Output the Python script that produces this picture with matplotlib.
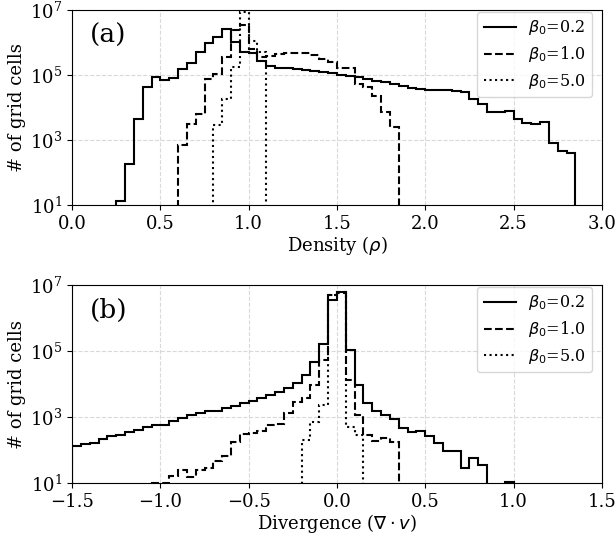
import numpy as np
import matplotlib
matplotlib.use('Agg')
import matplotlib.pyplot as plt
from matplotlib.lines import Line2D
from matplotlib.ticker import FixedLocator, NullLocator

plt.rcParams['font.family'] = 'DejaVu Serif'
plt.rcParams['mathtext.fontset'] = 'dejavusans'
plt.rcParams['font.size'] = 13

bin_width = 0.05
labels = [r'$\beta_0$=0.2', r'$\beta_0$=1.0', r'$\beta_0$=5.0']
styles = ['-', '--', ':']

# (a) density histograms: first bin left edge, counts per 0.05 bin
rho_start = [0.25, 0.60, 0.80]
rho_b02 = [13, 180, 4600, 42000, 85000, 71000, 79000, 150000, 240000, 500000,
           980000, 1.5e6, 2.6e6, 1.07e6, 525000, 490000, 270000, 195000, 170000, 162000,
           155000, 145000, 135000, 126000, 115000, 100000, 93000, 85000, 76000, 68000,
           60000, 52000, 47000, 41000, 37000, 36000, 35000, 35000, 32000, 30000,
           19000, 12600, 7200, 7200, 7800, 4500, 3400, 3200, 3500, 830,
           470, 390]
rho_b10 = [710, 3200, 6200, 76000, 107000, 360000, 2.4e6, 3.5e6, 620000, 350000,
           380000, 440000, 470000, 470000, 470000, 420000, 320000, 260000, 162000, 162000,
           52000, 44000, 23000, 7400, 2600]
rho_b50 = [3000, 19000, 180000, 8.9e6, 1.15e6, 500000]

# (b) divergence histograms
div_start = [-1.50, -1.05, -0.20]
div_b02 = [135, 155, 170, 215, 270, 290, 360, 420, 500, 590,
           590, 790, 930, 1170, 1320, 1580, 1580, 1950, 2200, 2600,
           3100, 3900, 4600, 5600, 7400, 10500, 19000, 47000, 170000, 3.5e6,
           6.3e6, 107000, 9300, 2700, 1550, 1150, 850, 460, 355, 370,
           260, 160, 93, 93, 29, 58, 35, 0, 0, 11]
div_b10 = [10, 10, 17, 25, 15, 25, 28, 48, 65, 180,
           310, 340, 380, 560, 630, 1350, 2900, 3900, 9100, 54000,
           4.9e6, 6.2e6, 13500, 1150, 295, 186, 234, 182]
div_b50 = [200, 710, 2300, 5e6, 5.6e6, 500, 295]


def draw_panel(ax, starts, series, xlim, xticks, xlabel, tag):
    for start, counts, ls in zip(starts, series, styles):
        edges = start + bin_width * np.arange(len(counts) + 1)
        ax.hist(edges[:-1] + bin_width / 2, bins=edges, weights=counts,
                histtype='step', log=True, color='black', linestyle=ls, linewidth=1.5)
    ax.set_xlim(*xlim)
    ax.set_ylim(10, 1e7)
    ax.set_xticks(xticks)
    ax.yaxis.set_major_locator(FixedLocator([1e1, 1e3, 1e5, 1e7]))
    ax.yaxis.set_minor_locator(NullLocator())
    ax.grid(True, linestyle='--', color='#d9d9d9', linewidth=0.8)
    ax.set_axisbelow(True)
    ax.set_xlabel(xlabel, labelpad=1)
    ax.set_ylabel('# of grid cells', labelpad=3)
    ax.text(0.034, 0.87, tag, transform=ax.transAxes, fontsize=19, va='center', ha='left')
    handles = [Line2D([], [], color='black', linestyle=ls, linewidth=1.5) for ls in styles]
    ax.legend(handles, labels, loc='upper right', bbox_to_anchor=(0.985, 1.0),
              borderaxespad=0.1, fontsize=11.5, labelspacing=0.45)


fig = plt.figure(figsize=(6.16, 5.38), dpi=100)
ax1 = fig.add_axes([0.117, 0.619, 0.860, 0.362])
ax2 = fig.add_axes([0.117, 0.102, 0.860, 0.368])

draw_panel(ax1, rho_start, [rho_b02, rho_b10, rho_b50], (0, 3.0),
           [0.0, 0.5, 1.0, 1.5, 2.0, 2.5, 3.0], r'Density ($\rho$)', '(a)')
draw_panel(ax2, div_start, [div_b02, div_b10, div_b50], (-1.5, 1.5),
           [-1.5, -1.0, -0.5, 0.0, 0.5, 1.0, 1.5], r'Divergence ($\nabla\cdot v$)', '(b)')

fig.savefig('out.png', dpi=100)
